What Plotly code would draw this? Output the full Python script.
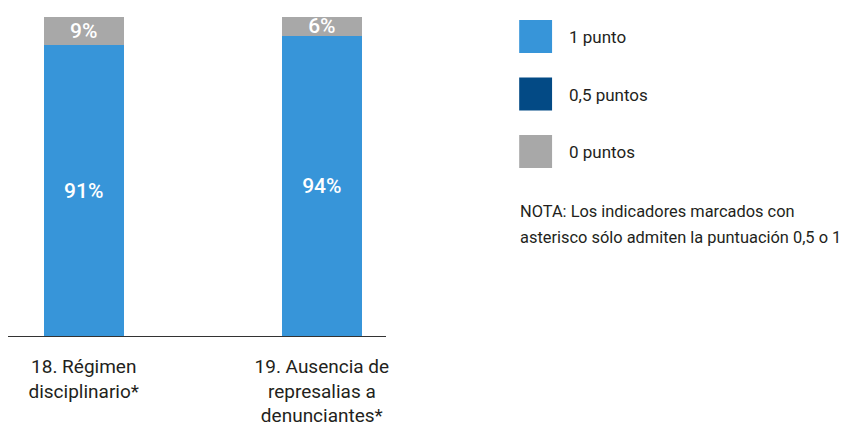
import plotly.graph_objects as go

# Datos
categorias = ["18. Régimen<br>disciplinario*", "19. Ausencia de<br>represalias a<br>denunciantes*"]
series = ["1 punto", "0,5 puntos", "0 puntos"]
valores_1 = [91, 94]
valores_05 = [0, 0]
valores_0 = [9, 6]
colores = ["#3795D9", "#034A85", "#A8A8A8"]
nota = ["NOTA: Los indicadores marcados con", "asterisco sólo admiten la puntuación 0,5 o 1"]

# la página tiene 8px de margen en el body
OFF = 8
W, H = 856 - OFF, 430 - OFF
FONT = "Roboto"
TXT = "#231F20"


def px(x):
    return (x - OFF) / W


def py(y):
    return 1 - (y - OFF) / H


fig = go.Figure()
for nombre, vals, col in zip(series, [valores_1, valores_05, valores_0], colores):
    fig.add_trace(go.Bar(
        x=categorias, y=vals, name=nombre, marker=dict(color=col, line=dict(width=0)),
        width=0.335,
        text=[f"{v}%" if v > 0 else "" for v in vals],
        textposition="inside", insidetextanchor="middle", constraintext="none",
        textfont=dict(family=FONT, size=21, color="white", weight=500),
        showlegend=False,
    ))

# leyenda dibujada a mano (cuadros grandes)
for i, (nombre, col) in enumerate(zip(series, colores)):
    top = 20 + i * 57.5
    fig.add_shape(type="rect", xref="paper", yref="paper",
                  x0=px(521), x1=px(554), y0=py(top + 33), y1=py(top),
                  fillcolor=col, line=dict(width=0))
    fig.add_annotation(xref="paper", yref="paper", x=px(569), y=py(top + 17),
                       text=nombre, showarrow=False, xanchor="left", yanchor="middle",
                       font=dict(family=FONT, size=17, color=TXT))

for i, linea in enumerate(nota):
    fig.add_annotation(xref="paper", yref="paper", x=px(520), y=py(211 + i * 27),
                       text=linea, showarrow=False, xanchor="left", yanchor="middle",
                       font=dict(family=FONT, size=16.4, color=TXT))

fig.update_layout(
    width=W, height=H, barmode="stack",
    margin=dict(l=0, r=0, t=0, b=0),
    plot_bgcolor="white", paper_bgcolor="white",
    font=dict(family=FONT, color=TXT),
    xaxis=dict(domain=[px(8), px(387)], range=[-0.318, 1.268], showline=True,
               linecolor="#333333", linewidth=1, showgrid=False, ticks="",
               tickfont=dict(family=FONT, size=19, color=TXT), ticklabelstandoff=13),
    yaxis=dict(domain=[py(336), py(16.5)], range=[0, 100], visible=False),
)

fig.write_html("out.html")
